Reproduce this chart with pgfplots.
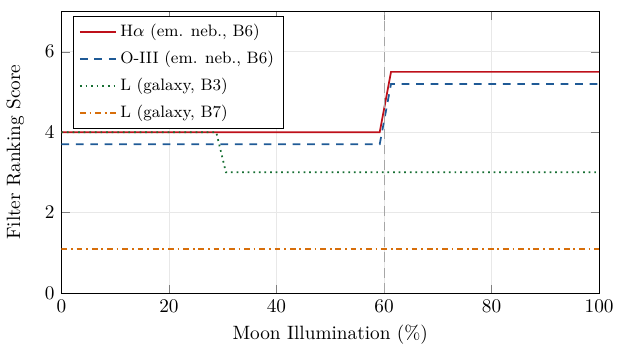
\documentclass[border=0pt]{standalone}
\usepackage{pgfplots}
\pgfplotsset{compat=1.18}
\definecolor{cred}{RGB}{190,16,26}
\definecolor{cblue}{RGB}{31,90,150}
\definecolor{cgreen}{RGB}{22,110,50}
\definecolor{corange}{RGB}{215,110,10}
\begin{document}
\begin{tikzpicture}
\begin{axis}[
  scale only axis,
  width=279pt, height=146pt,
  xmin=0, xmax=100, ymin=0, ymax=7,
  xtick={0,20,40,60,80,100},
  ytick={0,2,4,6},
  grid=major,
  major grid style={gray!18},
  xlabel={Moon Illumination (\%)},
  ylabel={Filter Ranking Score},
  ylabel style={yshift=4pt},
  legend style={at={(rel axis cs:0,1)}, xshift=6pt, yshift=-2.5pt, anchor=north west, draw=black, fill=white, font=\fontsize{8.6}{10.5}\selectfont, row sep=2pt},
  legend cell align=left,
  legend image code/.code={\draw[#1] (0cm,0cm) -- (0.65cm,0cm);},
  legend image post style={line width=0.9pt},
]
\addplot[cred, line width=0.9pt] coordinates {(0,4) (59.2,4) (61.3,5.5) (100,5.5)};
\addlegendentry{H$\alpha$ (em. neb., B6)}
\addplot[cblue, line width=0.9pt, dash pattern=on 4pt off 3.5pt] coordinates {(0,3.7) (59.2,3.7) (61.3,5.2) (100,5.2)};
\addlegendentry{O-III (em. neb., B6)}
\addplot[cgreen, line width=0.9pt, dotted] coordinates {(0,4) (28.8,4) (30.6,3) (100,3)};
\addlegendentry{L (galaxy, B3)}
\addplot[corange, line width=0.9pt, dashdotted] coordinates {(0,1.1) (100,1.1)};
\addlegendentry{L (galaxy, B7)}
\addplot[gray!70, dash pattern=on 5pt off 3pt, forget plot] coordinates {(60,0) (60,7)};
\end{axis}
\path ([yshift=6pt]current axis.north);
\end{tikzpicture}
\end{document}
